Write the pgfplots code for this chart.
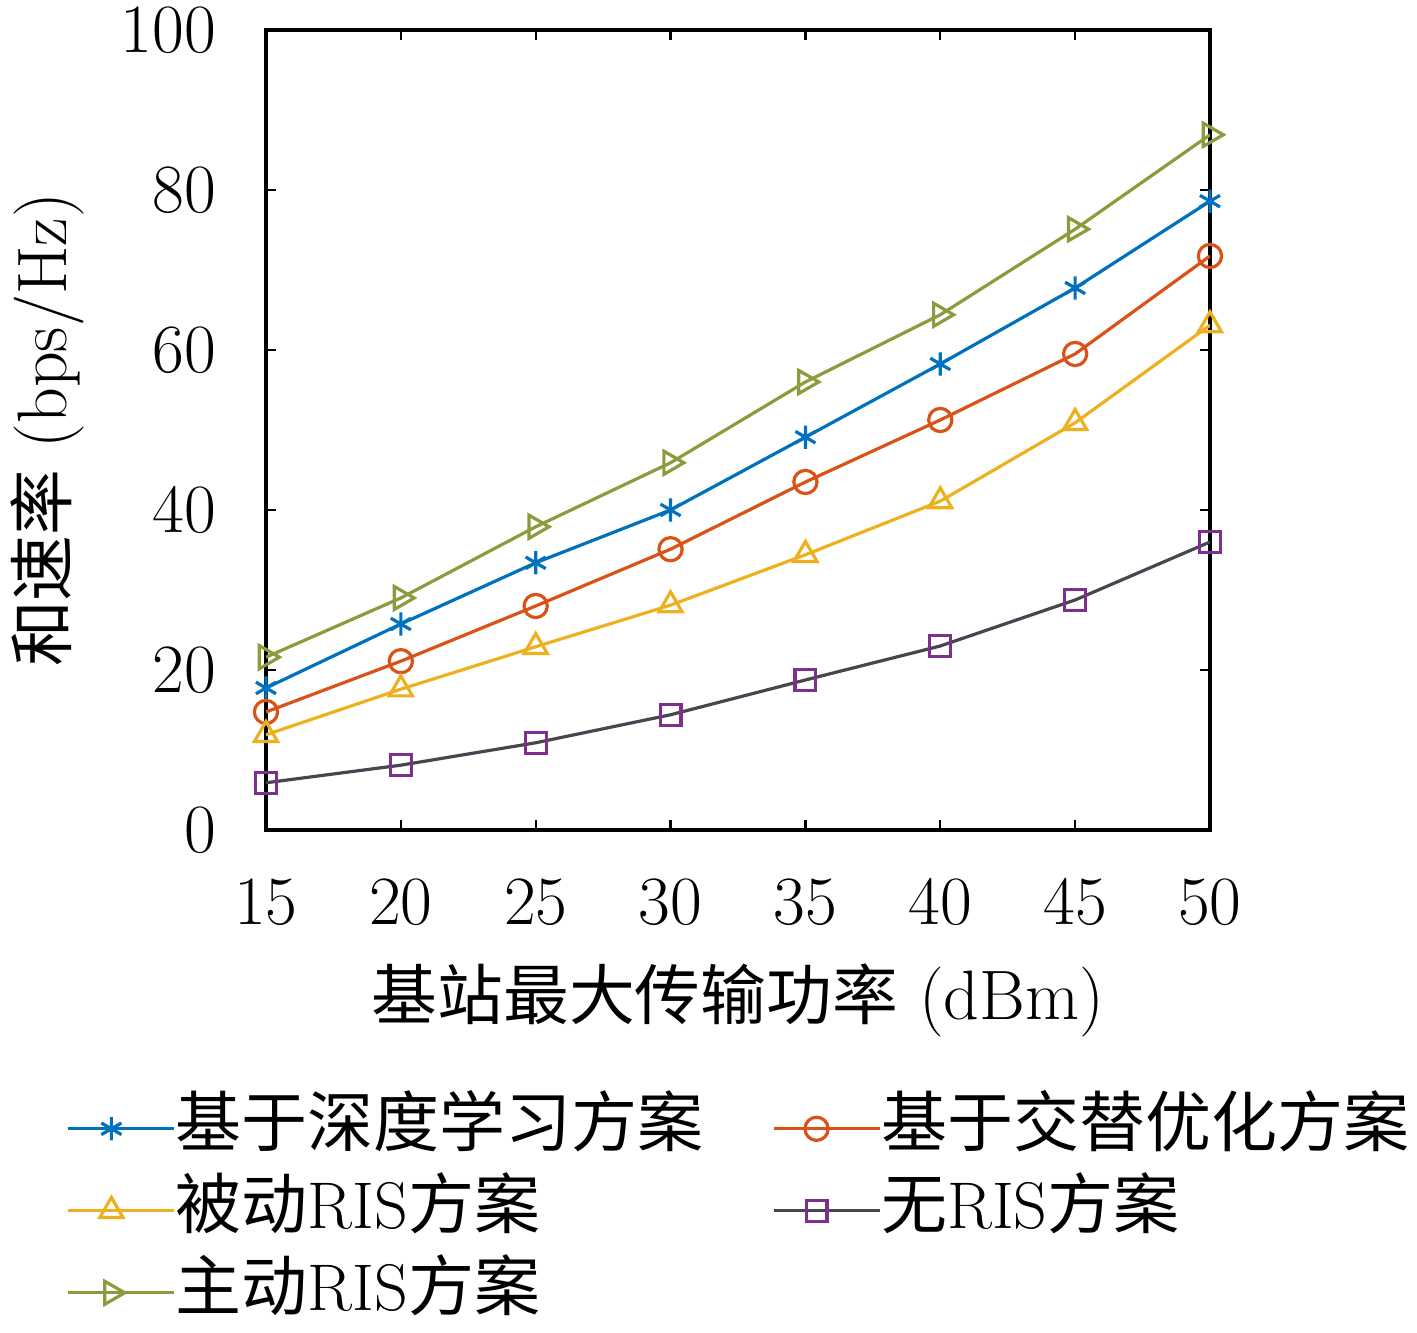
\documentclass[border=0pt]{standalone}
\usepackage{pgfplots}
\pgfplotsset{compat=1.18}
\usepackage{fontspec}
\newfontfamily\cjk{Noto Sans CJK SC}
\newfontfamily\cjkb[Scale=0.94]{Noto Sans CJK SC}
\definecolor{cblue}{RGB}{0,114,189}
\definecolor{cred}{RGB}{217,83,25}
\definecolor{cyel}{RGB}{237,177,32}
\definecolor{cpur}{RGB}{126,47,142}
\definecolor{cgray}{RGB}{70,70,80}
\definecolor{cgreen}{RGB}{140,155,60}
\begin{document}
\fontsize{16}{19}\selectfont
\begin{tikzpicture}
\begin{axis}[
  name=ax,
  width=236pt, height=200pt, scale only axis,
  xmin=15, xmax=50, ymin=0, ymax=100,
  xtick={15,20,...,50}, ytick={0,20,...,100},
  tick align=inside, major tick length=2.5pt,
  axis line style={line width=0.8pt},
  every tick/.style={black, line width=0.6pt},
  tick label style={font=\fontsize{16}{19}\selectfont},
  xticklabel style={yshift=-7pt},
  yticklabel style={xshift=-7pt},
  xlabel={{\cjkb 基站最大传输功率} (dBm)},
  ylabel={{\cjkb 和速率} (bps/Hz)},
  label style={font=\fontsize{17.5}{20}\selectfont, inner sep=0pt},
  xlabel style={at={(axis description cs:0.5,-0.2125)}, anchor=center},
  ylabel style={at={(axis description cs:-0.232,0.5)}, anchor=center},
  legend columns=2,
  legend style={at={(axis description cs:0.5,-0.335)}, anchor=north, draw=none, fill=none,
    inner sep=0pt,
    font=\fontsize{16.5}{19}\selectfont, row sep=5.5pt,
    nodes={inner sep=0pt, text height=12pt, text depth=3pt},
    /tikz/every even column/.append style={column sep=17pt}},
  legend cell align=left,
  legend image code/.code={
    \path (0pt,0pt) -- (26.5pt,0pt);
    \draw[#1] (0pt,0pt) -- (21.5pt,0pt);
    \draw[#1,only marks] plot coordinates {(10.75pt,0pt)};
  },
  every axis plot/.append style={line width=0.8pt, mark size=2.9pt},
]
\addplot[color=cblue, mark=asterisk, mark options={solid, cblue}] coordinates {
(15,17.75) (20,25.75) (25,33.4) (30,40) (35,49.1) (40,58.25) (45,67.75) (50,78.6)};
\addlegendentry{{\cjk 基于深度学习方案}}
\addplot[color=cred, mark=o, mark options={solid, cred}] coordinates {
(15,14.75) (20,21.1) (25,28) (30,35.1) (35,43.5) (40,51.25) (45,59.5) (50,71.75)};
\addlegendentry{{\cjk 基于交替优化方案}}
\addplot[color=cyel, mark=triangle, mark options={solid, cyel, scale=1.15}] coordinates {
(15,11.9) (20,17.6) (25,22.9) (30,28.1) (35,34.4) (40,41.1) (45,50.9) (50,63.1)};
\addlegendentry{{\cjk 被动}RIS{\cjk 方案}}
\addplot[color=cgray, mark=square, mark options={solid, cpur, scale=0.9}] coordinates {
(15,5.9) (20,8.1) (25,10.9) (30,14.4) (35,18.75) (40,23) (45,28.75) (50,36)};
\addlegendentry{{\cjk 无}RIS{\cjk 方案}}
\addplot[color=cgreen, mark=triangle, mark options={solid, cgreen, rotate=-90, scale=1.15}] coordinates {
(15,21.6) (20,29) (25,37.9) (30,45.9) (35,56) (40,64.4) (45,75.1) (50,86.9)};
\addlegendentry{{\cjk 主动}RIS{\cjk 方案}}
\end{axis}
\pgfresetboundingbox
\path ([shift={(-66.5pt,-125.75pt)}]ax.south west) rectangle ([shift={(51.75pt,7.5pt)}]ax.north east);
\end{tikzpicture}
\end{document}
